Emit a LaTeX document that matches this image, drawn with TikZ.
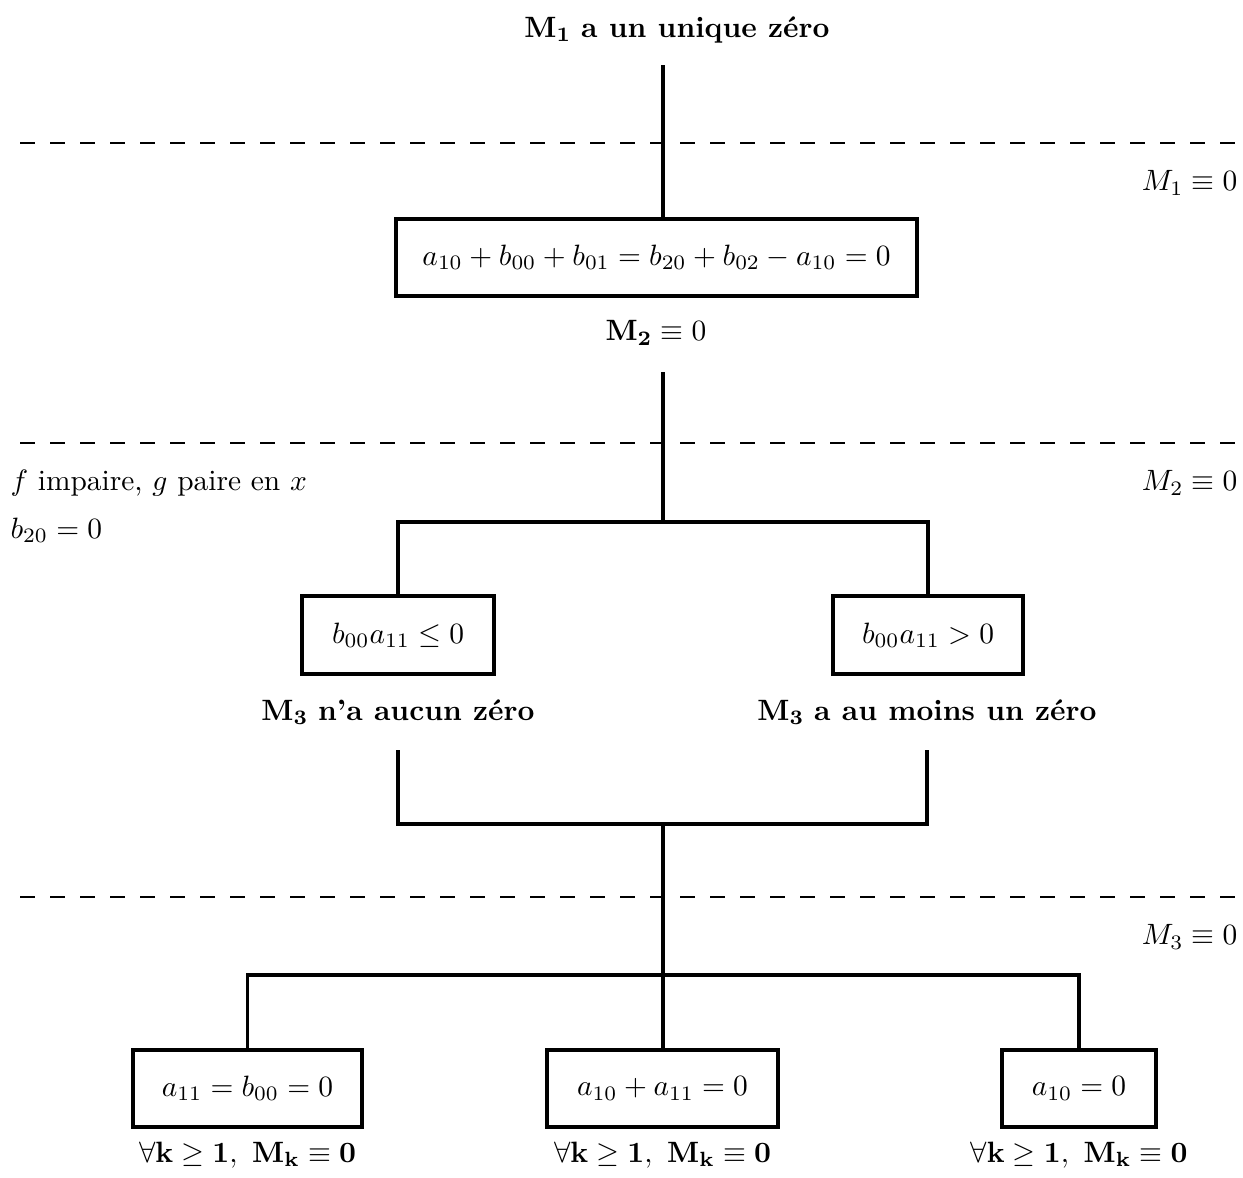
\documentclass[tikz,border=0pt]{standalone}
\begin{document}
\begin{tikzpicture}[x=0.34pt,y=-0.34pt,
  box/.style={draw,line width=1.2pt,inner sep=0pt,anchor=center},
  conn/.style={line width=1.2pt},
  sep/.style={line width=0.4pt,dash pattern=on 5.1pt off 5.1pt},
  lab/.style={inner sep=0pt}]
\useasboundingbox (0,0) rectangle (1243,1178);
% separators
\coordinate (d1a) at (20,143); \coordinate (d1b) at (1243,143);
\coordinate (d2a) at (20,443); \coordinate (d2b) at (1243,443);
\coordinate (d3a) at (20,897); \coordinate (d3b) at (1243,897);
\draw[sep] (d1a) -- (d1b);
\draw[sep] (d2a) -- (d2b);
\draw[sep] (d3a) -- (d3b);
% right labels
\node[lab,anchor=east] (r1) at (1238,183) {$M_1\equiv 0$};
\node[lab,anchor=east] (r2) at (1238,483) {$M_2\equiv 0$};
\node[lab,anchor=east] (r3) at (1238,937) {$M_3\equiv 0$};
% left labels
\node[lab,anchor=west] (fl) at (10,483) {$f$ impaire, $g$ paire en $x$};
\node[lab,anchor=west] (bl) at (10,530) {$b_{20}=0$};
% top
\node[lab] (t1) at (677,30) {$\mathbf{M_1}$ \textbf{a un unique zéro}};
\coordinate (c1) at (663,65);
\node[box,minimum width=177.1pt,minimum height=26.2pt] (b1) at (656.5,257.5) {$a_{10}+b_{00}+b_{01}=b_{20}+b_{02}-a_{10}=0$};
\draw[conn] (c1) -- (c1 |- b1.north);
\node[lab] (m2) at (656,333) {$\mathbf{M_2}\equiv 0$};
% second level
\coordinate (c2) at (663,372); \coordinate (j1) at (663,522);
\draw[conn] (c2) -- (j1);
\node[box,minimum width=65.3pt,minimum height=26.5pt] (b2l) at (398,635) {$b_{00}a_{11}\leq 0$};
\node[box,minimum width=64.6pt,minimum height=26.5pt] (b2r) at (928,635) {$b_{00}a_{11}> 0$};
\draw[conn] (b2l.north) |- (j1) -| (b2r.north);
\node[lab] (m3l) at (398,712) {$\mathbf{M_3}$ \textbf{n'a aucun zéro}};
\node[lab] (m3r) at (927,712) {$\mathbf{M_3}$ \textbf{a au moins un zéro}};
% third level
\coordinate (c3l) at (398,750); \coordinate (c3r) at (927,750); \coordinate (j2) at (663,824);
\draw[conn] (c3l) |- (j2) -| (c3r);
\coordinate (j3) at (663,975);
\node[box,minimum width=77.9pt,minimum height=26.2pt] (b3l) at (247.5,1088.5) {$a_{11}=b_{00}=0$};
\node[box,minimum width=78.5pt,minimum height=26.2pt] (b3m) at (662.5,1088.5) {$a_{10}+a_{11}=0$};
\node[box,minimum width=52.4pt,minimum height=26.2pt] (b3r) at (1079,1088.5) {$a_{10}=0$};
\draw[conn] (j2) -- (j2 |- b3m.north);
\draw[conn] (b3l.north) |- (j3) -| (b3r.north);
\node[lab] (k1) at (247.5,1155) {$\mathbf{\forall k\geq 1,\ M_k\equiv 0}$};
\node[lab] (k2) at (662.5,1155) {$\mathbf{\forall k\geq 1,\ M_k\equiv 0}$};
\node[lab] (k3) at (1079,1155) {$\mathbf{\forall k\geq 1,\ M_k\equiv 0}$};
\end{tikzpicture}
\end{document}
